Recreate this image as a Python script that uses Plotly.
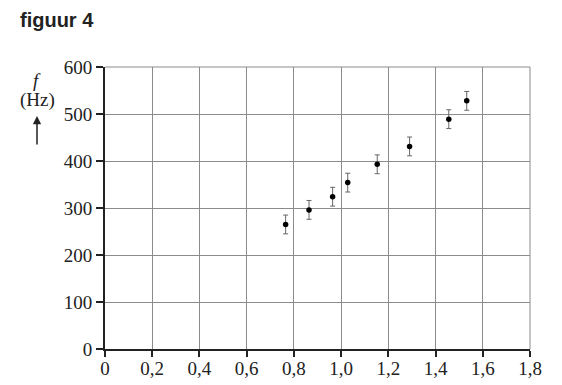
import plotly.graph_objects as go

# data
x_vals = [0.765, 0.864, 0.964, 1.028, 1.153, 1.290, 1.456, 1.532]
f_vals = [265, 296, 324, 354, 393, 431, 489, 528]
f_err = [20, 20, 20, 20, 20, 20, 20, 20]

x_ticks = [0, 0.2, 0.4, 0.6, 0.8, 1.0, 1.2, 1.4, 1.6, 1.8]
x_labels = ["0", "0,2", "0,4", "0,6", "0,8", "1,0", "1,2", "1,4", "1,6", "1,8"]
y_ticks = [0, 100, 200, 300, 400, 500, 600]
y_labels = ["0", "100", "200", "300", "400", "500", "600"]

serif = "Liberation Serif, Times New Roman, serif"
W, H = 425, 282
L, T = 105, 67


def px(x):
    return (x - L) / W


def py(y):
    return (T + H - y) / H


fig = go.Figure()
fig.add_trace(go.Scatter(
    x=x_vals, y=f_vals, mode="markers",
    marker=dict(color="black", size=5.5),
    error_y=dict(type="data", array=f_err, visible=True,
                 color="#666666", thickness=1, width=2.5),
    showlegend=False,
))

fig.update_layout(
    width=562, height=385,
    margin=dict(l=L, r=562 - L - W, t=T, b=385 - T - H),
    paper_bgcolor="white", plot_bgcolor="white",
    xaxis=dict(range=[0, 1.8], tickvals=x_ticks, ticktext=x_labels,
               showgrid=True, gridcolor="#8c8c8c", gridwidth=1,
               showline=True, linecolor="#222222", linewidth=2,
               ticks="outside", ticklen=6, tickcolor="#222222", tickwidth=1.5,
               ticklabelstandoff=-5,
               tickfont=dict(family=serif, size=19, color="#222222"),
               zeroline=False, fixedrange=True, automargin=False),
    yaxis=dict(range=[0, 600], tickvals=y_ticks, ticktext=y_labels,
               showgrid=True, gridcolor="#8c8c8c", gridwidth=1,
               showline=True, linecolor="#222222", linewidth=2,
               ticks="outside", ticklen=7, tickcolor="#222222", tickwidth=1.5,
               tickfont=dict(family=serif, size=19, color="#222222"),
               zeroline=False, fixedrange=True, automargin=False),
)

# closing border lines at top and right (grid style)
fig.add_shape(type="line", xref="paper", yref="paper", x0=0, x1=1, y0=1, y1=1,
              line=dict(color="#8c8c8c", width=1))
fig.add_shape(type="line", xref="paper", yref="paper", x0=1, x1=1, y0=0, y1=1,
              line=dict(color="#8c8c8c", width=1))

fig.add_annotation(text="<b>figuur 4</b>", xref="paper", yref="paper",
                   x=px(18), y=py(20), xanchor="left", yanchor="middle",
                   showarrow=False,
                   font=dict(family="Liberation Sans, Arial, sans-serif", size=20, color="#222222"))

fig.add_annotation(text="<i>f</i>", xref="paper", yref="paper",
                   x=px(37), y=py(80), xanchor="center", yanchor="middle",
                   showarrow=False, font=dict(family=serif, size=19, color="#222222"))
fig.add_annotation(text="(Hz)", xref="paper", yref="paper",
                   x=px(37), y=py(100), xanchor="center", yanchor="middle",
                   showarrow=False, font=dict(family=serif, size=19, color="#222222"))
fig.add_annotation(text="", xref="paper", yref="paper", axref="pixel", ayref="pixel",
                   x=px(37), y=py(116), ax=0, ay=30,
                   showarrow=True, arrowhead=2, arrowsize=1.1, arrowwidth=1.5,
                   arrowcolor="#222222")

fig.write_html("out.html")
